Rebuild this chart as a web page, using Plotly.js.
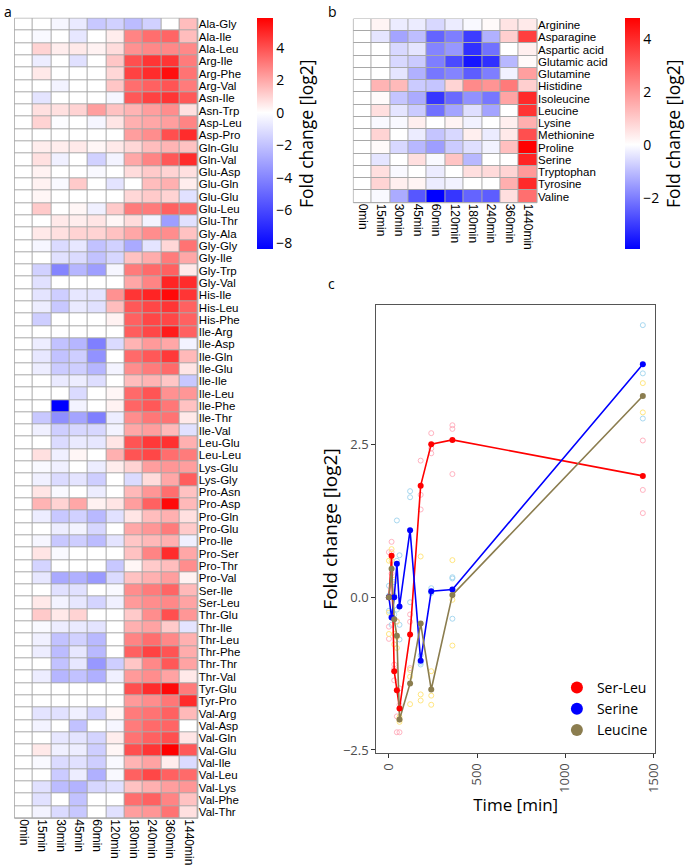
<!DOCTYPE html>
<html>
<head>
<meta charset="utf-8">
<script src="https://cdn.plot.ly/plotly-3.0.1.min.js"></script>
<style>html,body{margin:0;padding:0;background:#fff;}#chart{width:685px;height:868px;}</style>
</head>
<body>
<div id="chart"></div>
<script>
// ---------- Panel a: dipeptides ----------
const timeLabels = ['0min','15min','30min','45min','60min','120min','180min','240min','360min','1440min'];
const dipeptides = ['Ala-Gly','Ala-Ile','Ala-Leu','Arg-Ile','Arg-Phe','Arg-Val','Asn-Ile','Asn-Trp','Asp-Leu','Asp-Pro',
 'Gln-Glu','Gln-Val','Glu-Asp','Glu-Gln','Glu-Glu','Glu-Leu','Glu-Thr','Gly-Ala','Gly-Gly','Gly-Ile','Gly-Trp','Gly-Val',
 'His-Ile','His-Leu','His-Phe','Ile-Arg','Ile-Asp','Ile-Gln','Ile-Glu','Ile-Ile','Ile-Leu','Ile-Phe','Ile-Thr','Ile-Val',
 'Leu-Glu','Leu-Leu','Lys-Glu','Lys-Gly','Pro-Asn','Pro-Asp','Pro-Gln','Pro-Glu','Pro-Ile','Pro-Ser','Pro-Thr','Pro-Val',
 'Ser-Ile','Ser-Leu','Thr-Glu','Thr-Ile','Thr-Leu','Thr-Phe','Thr-Thr','Thr-Val','Tyr-Glu','Tyr-Pro','Val-Arg','Val-Asp',
 'Val-Gln','Val-Glu','Val-Ile','Val-Leu','Val-Lys','Val-Phe','Val-Thr'];
const dipeptideFC = [
 [0,0,-0.3,-0.7,-1.8,-1.5,-2.2,-1.5,0,1.5],
 [0,-0.2,0,-0.8,0,0.4,2.8,3.3,3.5,1.5],
 [0,1.0,0.4,0.5,0.3,0.8,2.5,2.7,2.7,2.7],
 [0,-0.6,0,-1.0,0,1.3,4.0,4.6,4.6,3.0],
 [0,0.5,0,0,0,0.9,4.3,4.8,5.5,3.2],
 [0,0,-0.4,0,0,1.3,3.3,3.6,3.9,3.0],
 [0,-0.9,0,0,0,-0.3,3.8,4.3,4.6,3.8],
 [0,0.7,0.7,1.0,2.2,1.4,1.7,2.2,2.6,0.7],
 [0,1.0,-0.1,0,-0.3,0.6,1.8,2.0,2.2,2.8],
 [0,0,0,0,0,0,2.2,2.6,4.0,4.8],
 [0,0.4,0.4,0.5,0.2,0.5,0.9,1.5,1.7,1.4],
 [0,0.7,-0.5,0,-1.5,-0.4,2.0,2.8,3.8,4.8],
 [0,0.3,0,0,-0.2,0,0.8,1.2,1.0,0.7],
 [0,0.3,-0.2,1.2,0,-0.9,0,1.5,1.8,0.4],
 [0,0.2,0,0,0,0,0.9,1.2,1.0,-1.0],
 [0,1.2,0,0.2,-0.5,1.2,3.0,3.0,3.6,3.4],
 [0,0,0.5,0.4,0.6,0.2,0.8,-0.4,-3.2,-1.0],
 [0,0.5,0.7,1.0,1.0,1.4,2.0,2.6,2.6,1.4],
 [0,-0.3,-1.2,-0.8,-2.0,-1.5,-2.8,-0.9,0.9,3.2],
 [0,0,-1.0,-1.2,-2.0,-1.3,1.4,1.9,3.0,2.0],
 [0,-1.5,-4.0,-2.4,-3.2,-0.3,3.0,3.4,3.6,0.5],
 [0,-1.0,0,0,0,0,2.0,2.8,5.0,4.8],
 [0,-0.9,-1.6,-0.8,-0.9,2.5,4.6,5.0,5.6,4.6],
 [0,-0.6,-1.8,-0.7,-1.0,1.5,3.8,4.2,4.6,3.6],
 [0,-1.6,0,0,0,0.3,3.6,4.2,4.2,3.6],
 [0,0,0,0,0,0,3.7,4.2,5.2,3.6],
 [0,-0.6,-2.0,-2.4,-4.2,-1.2,1.7,2.3,2.0,-0.4],
 [0,-0.8,-2.0,-1.6,-3.6,0,3.4,3.8,4.5,1.6],
 [0,-0.6,-1.7,-1.6,-2.4,-0.4,2.6,3.0,3.4,0.6],
 [0,0,-0.7,-0.6,-1.1,0,1.5,1.7,1.3,-1.8],
 [0,0,0,-1.2,0,0.2,3.4,3.9,2.5,2.4],
 [0,0,-8.39,-0.4,0,0.3,3.5,3.8,3.1,1.4],
 [0,-1.8,-3.7,-3.0,-4.2,-0.6,2.6,3.1,3.2,0.5],
 [0,-0.5,-1.6,-1.3,-1.3,-0.4,2.0,2.2,1.6,-1.0],
 [0,0,-1.2,-0.7,-0.8,0.6,3.9,4.5,4.7,1.8],
 [0,0.7,-0.5,0.2,0,1.8,3.9,4.2,3.3,3.0],
 [0,-0.2,-0.5,0,-0.6,0.4,1.0,2.2,2.4,2.2],
 [0,-0.5,-1.2,-0.9,-1.6,0,-1.2,0.8,2.0,3.7],
 [0,0.6,-0.2,0,-0.6,0,1.6,2.4,3.3,1.4],
 [0,1.7,1.0,2.0,0.3,0.6,2.2,3.6,5.6,1.6],
 [0,-0.6,-1.8,-1.5,-2.3,-1.0,0.6,1.5,1.8,0.7],
 [0,0,-0.6,-0.4,-1.3,0,2.0,2.4,3.0,1.2],
 [0,-0.3,-1.8,-1.6,-2.2,-0.9,1.3,1.6,1.8,-0.5],
 [0,0.6,-0.2,0,0,0,1.4,2.8,4.8,2.0],
 [0,-1.4,0,0,0,-1.8,0.2,1.2,1.5,2.6],
 [0,-0.8,-2.8,-2.6,-3.3,-1.2,1.4,1.8,2.2,0.3],
 [0,0,-1.0,-1.0,0,-0.2,2.6,3.0,3.5,1.6],
 [0,0.5,-0.4,-0.8,-1.4,-0.5,2.3,2.6,2.7,2.1],
 [0,1.2,0.5,1.0,0,0,1.2,2.6,4.0,2.4],
 [0,-0.2,-0.6,-0.7,-0.9,0,1.8,2.1,1.2,-0.9],
 [0,-0.5,-2.0,-1.5,-2.3,0,2.8,3.3,2.7,1.8],
 [0,-0.6,-2.2,-0.8,-2.3,0,3.6,4.3,3.9,1.9],
 [0,0,-2.0,-0.8,-3.4,-1.6,1.3,2.7,3.8,2.1],
 [0,-0.6,-2.4,-2.0,-2.6,-0.5,2.3,2.6,2.1,0.5],
 [0,0,0,0,0,0,4.0,4.8,5.6,3.0],
 [0,0,0,0,0,0,2.3,2.6,3.1,4.8],
 [0,-0.9,-1.0,-0.5,-1.4,0.2,3.0,3.2,3.6,1.6],
 [0,-0.4,0,-2.0,0,-0.3,3.0,3.4,3.5,0],
 [0,0,-0.8,-0.9,-1.4,0.4,3.2,3.6,4.0,0.6],
 [0,0.5,-0.5,-0.6,-1.6,0.2,4.0,4.6,5.8,3.8],
 [0,-0.2,-1.2,-1.0,-1.6,-0.2,1.7,2.1,0.4,-1.2],
 [0,0,-1.7,-0.6,-2.6,-0.2,3.6,4.2,3.6,3.4],
 [0,-1.0,-2.2,-2.5,-1.3,-1.0,1.4,1.8,2.2,2.4],
 [0,-1.0,0,-2.0,0,0,3.3,3.6,2.8,1.4],
 [0,-0.4,-1.2,-1.8,0,-1.0,2.2,2.4,3.2,0.7]
];
const dipeptideRange = [-8.39, 5.81];

// ---------- Panel b: amino acids ----------
const aminoAcids = ['Arginine','Asparagine','Aspartic acid','Glutamic acid','Glutamine','Histidine','Isoleucine',
 'Leucine','Lysine','Methionine','Proline','Serine','Tryptophan','Tyrosine','Valine'];
const aminoFC = [
 [0,0.2,-0.3,-0.3,-0.6,-0.3,-0.1,0.1,0.5,0.4],
 [0,-0.4,-1.4,-1.0,-2.4,-2.0,-3.0,-1.2,0.9,3.6],
 [0,0,-0.6,-0.4,-1.9,-1.6,-3.2,-2.2,0,0.3],
 [0,0,-0.6,-0.8,-2.0,-2.8,-3.6,-3.2,-1.1,0.1],
 [0,0,-0.4,-1.2,-2.1,-1.9,-2.5,-2.0,-0.2,1.8],
 [0,1.4,1.3,-0.8,-0.9,0.8,2.2,2.0,2.5,0.9],
 [0,0.1,-0.9,-1.3,-3.1,-2.3,-1.7,-2.1,1.7,4.0],
 [0,0.6,-0.4,-0.8,-2.2,-1.4,-0.5,-1.4,0,3.8],
 [0,-0.1,-0.1,0.3,0,0.2,-0.2,0,0.3,1.5],
 [0,0.8,0,-0.3,-0.9,-0.6,0.3,-0.3,0.4,3.3],
 [0,0.1,-0.6,-1.1,-1.5,-0.8,-0.5,-0.2,1.2,4.78],
 [0,-0.4,0,0.6,-0.1,1.1,-1.1,0,0,4.1],
 [0,0.6,-0.1,0,-0.3,0,0.6,0.7,0.8,1.9],
 [0,0.8,0.3,0.2,-0.3,-0.2,0,0,1.5,4.0],
 [0,-0.1,-1.3,-2.6,-3.94,-3.1,-2.4,-2.5,0.6,2.7]
];
const aminoRange = [-3.94, 4.78];

// ---------- Panel c: time course ----------
const timeMin = [0,15,30,45,60,120,180,240,360,1440];
const serLeuMean  = [0,0.68,-1.21,-1.52,-1.82,-0.61,1.83,2.51,2.58,1.99];
const serineMean  = [0,-0.33,0.0,0.55,-0.15,1.10,-1.04,0.10,0.13,3.82];
const leucineMean = [0,0.47,-0.36,-0.63,-2.0,-1.41,-0.43,-1.51,0.04,3.30];

const serLeuRepT = [0,0,0,15,15,15,30,30,30,45,45,45,60,60,60,120,120,120,180,180,180,240,240,240,360,360,360,1440,1440,1440];
const serLeuRepV = [0.74,-0.48,-0.68,0.91,0.74,0.39,-1.36,-1.10,-1.17,-0.39,-2.21,-1.95,-1.49,-2.21,-1.76,-0.28,-0.40,-1.16,2.24,1.68,1.44,2.69,2.44,2.36,2.82,2.76,2.02,2.57,1.76,1.38];
const serineRepT = [0,0,0,15,15,15,30,30,30,45,45,45,60,60,60,120,120,120,180,180,180,240,240,240,360,360,360,1440,1440,1440];
const serineRepV = [0.19,-0.22,0.03,-0.30,-0.45,-0.24,0.25,-0.28,0.03,1.26,0.60,-0.20,0.69,-0.45,-0.69,1.74,1.64,-0.08,-0.95,-1.10,-1.07,0.15,0.08,0.07,0.33,0.31,-0.35,4.46,3.67,2.93];
const leucineRepT = [0,0,0,15,15,15,30,30,30,45,45,45,60,60,60,120,120,120,180,180,180,240,240,240,360,360,360,1440,1440];
const leucineRepV = [0.60,-0.25,-0.60,0.79,0.60,0.0,-0.60,-0.77,0.29,-0.83,-0.40,-0.65,-2.04,-1.96,-2.0,-1.30,-1.75,-1.19,0.67,-1.59,-1.69,-1.21,-1.61,-1.76,0.61,-0.04,-0.79,3.51,3.03];

const W = 685, H = 868;
const px = v => v / W;
const py = v => 1 - v / H;
const cellFont = {family: 'Liberation Sans, Arial, sans-serif', size: 11.5, color: '#000'};
const sansFont = 'Open Sans, Liberation Sans, sans-serif';

function divScale(range) {
  const f = -range[0] / (range[1] - range[0]);
  return [[0, 'rgb(0,0,255)'], [f, 'rgb(255,255,255)'], [1, 'rgb(255,0,0)']];
}

const traces = [];
traces.push({
  type: 'heatmap', x: timeLabels, y: dipeptides, z: dipeptideFC,
  zmin: dipeptideRange[0], zmax: dipeptideRange[1], colorscale: divScale(dipeptideRange),
  xgap: 1, ygap: 1, xaxis: 'x', yaxis: 'y', hoverinfo: 'skip',
  colorbar: {x: px(259.3), xanchor: 'left', y: py(18.3), yanchor: 'top', len: 230.7 / H, lenmode: 'fraction',
    thickness: 16, thicknessmode: 'pixels', outlinewidth: 0, xpad: 0, ypad: 0, ticks: '', dtick: 2, tick0: 0,
    tickfont: {family: sansFont, size: 14, color: '#000'},
    title: {text: 'Fold change [log2]', side: 'right', font: {family: sansFont, size: 17.5, color: '#000'}}}
});
traces.push({
  type: 'heatmap', x: timeLabels, y: aminoAcids, z: aminoFC,
  zmin: aminoRange[0], zmax: aminoRange[1], colorscale: divScale(aminoRange),
  xgap: 1, ygap: 1, xaxis: 'x2', yaxis: 'y2', hoverinfo: 'skip',
  colorbar: {x: px(629.3), xanchor: 'left', y: py(18.3), yanchor: 'top', len: 231 / H, lenmode: 'fraction',
    thickness: 15, thicknessmode: 'pixels', outlinewidth: 0, xpad: 0, ypad: 0, ticks: '', dtick: 2, tick0: 0,
    tickfont: {family: sansFont, size: 14, color: '#000'},
    title: {text: 'Fold change [log2]', side: 'right', font: {family: sansFont, size: 17.5, color: '#000'}}}
});

const series = [
  {name: 'Ser-Leu', mean: serLeuMean, rt: serLeuRepT, rv: serLeuRepV, col: '#FF0000', light: '#FFB3C1'},
  {name: 'Serine', mean: serineMean, rt: serineRepT, rv: serineRepV, col: '#0000FF', light: '#A8D8F0'},
  {name: 'Leucine', mean: leucineMean, rt: leucineRepT, rv: leucineRepV, col: '#8B7D4F', light: '#FFE680'}
];
series.forEach(s => {
  traces.push({type: 'scatter', mode: 'markers', x: s.rt, y: s.rv, xaxis: 'x3', yaxis: 'y3', showlegend: false,
    hoverinfo: 'skip', marker: {symbol: 'circle-open', size: 5, color: s.light, line: {width: 1, color: s.light}}});
});
series.forEach(s => {
  traces.push({type: 'scatter', mode: 'lines', x: timeMin, y: s.mean, xaxis: 'x3', yaxis: 'y3', showlegend: false,
    legendgroup: s.name, hoverinfo: 'skip', line: {color: s.col, width: 1.6}});
});
series.forEach(s => {
  traces.push({type: 'scatter', mode: 'markers', x: timeMin, y: s.mean, xaxis: 'x3', yaxis: 'y3', name: s.name,
    legendgroup: s.name, hoverinfo: 'skip', marker: {color: s.col, size: 6}});
});

const gridColor = '#A8A8A8';
const catAxis = {type: 'category', ticks: '', showgrid: false, zeroline: false, tickfont: cellFont,
  tickmode: 'linear', tick0: 0, dtick: 1};
const layout = {
  width: W, height: H, margin: {l: 0, r: 0, t: 0, b: 0},
  paper_bgcolor: '#fff', plot_bgcolor: 'rgba(0,0,0,0)',
  font: cellFont, showlegend: true,
  xaxis: Object.assign({}, catAxis, {domain: [px(14.7), px(199.3)], tickangle: 90, anchor: 'y',
    tickfont: {family: cellFont.family, size: 12, color: '#000'}}),
  yaxis: Object.assign({}, catAxis, {domain: [py(818.3), py(18.3)], autorange: 'reversed', side: 'right', anchor: 'x'}),
  xaxis2: Object.assign({}, catAxis, {domain: [px(356), px(541)], tickangle: 90, anchor: 'y2',
    tickfont: {family: cellFont.family, size: 12, color: '#000'}}),
  yaxis2: Object.assign({}, catAxis, {domain: [py(202.7), py(19)], autorange: 'reversed', side: 'right', anchor: 'x2'}),
  xaxis3: {domain: [px(379), px(660)], range: [-72, 1510], anchor: 'y3', showgrid: false, zeroline: false,
    tickvals: [0, 500, 1000, 1500], tickangle: -90, ticks: 'outside', ticklen: 4, tickcolor: '#333',
    tickfont: {family: sansFont, size: 13, color: '#4D4D4D'},
    showline: true, mirror: true, linecolor: '#555', linewidth: 1,
    title: {text: 'Time [min]', font: {family: sansFont, size: 17, color: '#000'}, standoff: 6}},
  yaxis3: {domain: [py(753), py(305)], range: [-2.55, 4.79], anchor: 'x3', showgrid: false, zeroline: false,
    tickvals: [-2.5, 0, 2.5], tickformat: '.1f', ticks: 'outside', ticklen: 4, tickcolor: '#333',
    tickfont: {family: sansFont, size: 13, color: '#4D4D4D'},
    showline: true, mirror: true, linecolor: '#555', linewidth: 1,
    title: {text: 'Fold change [log2]', font: {family: sansFont, size: 19, color: '#000'}, standoff: 0}},
  legend: {x: px(561), xanchor: 'left', y: py(672), yanchor: 'top', bgcolor: 'rgba(0,0,0,0)',
    font: {family: sansFont, size: 14, color: '#000'}, itemsizing: 'constant', tracegroupgap: 0},
  shapes: [
    {type: 'rect', xref: 'x domain', yref: 'y domain', x0: 0, x1: 1, y0: 0, y1: 1, layer: 'below',
      fillcolor: gridColor, line: {color: gridColor, width: 1}},
    {type: 'rect', xref: 'x2 domain', yref: 'y2 domain', x0: 0, x1: 1, y0: 0, y1: 1, layer: 'below',
      fillcolor: gridColor, line: {color: gridColor, width: 1}}
  ],
  annotations: [
    {text: 'a', xref: 'paper', yref: 'paper', x: px(2), y: py(0), xanchor: 'left', yanchor: 'top', showarrow: false,
      font: {family: sansFont, size: 14, color: '#000'}},
    {text: 'b', xref: 'paper', yref: 'paper', x: px(328), y: py(0), xanchor: 'left', yanchor: 'top', showarrow: false,
      font: {family: sansFont, size: 14, color: '#000'}},
    {text: 'c', xref: 'paper', yref: 'paper', x: px(328), y: py(272), xanchor: 'left', yanchor: 'top', showarrow: false,
      font: {family: sansFont, size: 14, color: '#000'}}
  ]
};

Plotly.newPlot('chart', traces, layout, {staticPlot: true, displayModeBar: false});
</script>
</body>
</html>
